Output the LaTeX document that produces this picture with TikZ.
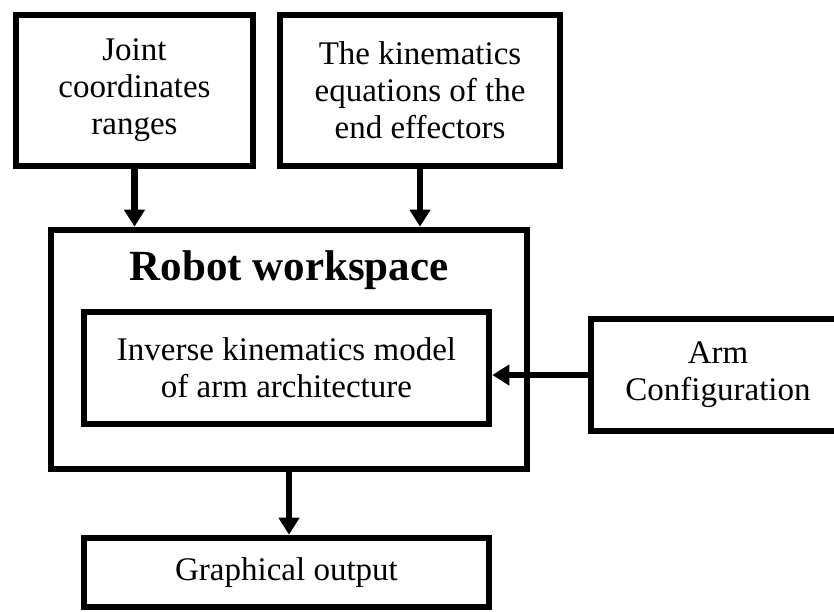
\documentclass[tikz,border=0pt]{standalone}
\usepackage{fontspec}
\setmainfont{Liberation Serif}
\usetikzlibrary{arrows.meta}

\begin{document}
\begin{tikzpicture}[x=0.5pt, y=-0.5pt,
  blockbox/.style={draw, line width=3.3pt, rectangle, align=center, inner sep=0pt,
    font=\fontsize{16.5}{18.5}\selectfont},
  flowarrow/.style={line width=3.3pt, -{Triangle[length=8.5pt,width=10pt]}}]
  \useasboundingbox (0,0) rectangle (834,611);
  \node[blockbox, minimum width=118.5pt, minimum height=75.5pt] (joint) at (134.5,90.5) {Joint\\coordinates\\ranges};
  \node[blockbox, minimum width=140pt, minimum height=75.5pt] (kin) at (420,90.5) {The kinematics\\equations of the\\end effectors};
  \node[blockbox, minimum width=238pt, minimum height=119.5pt] (robot) at (289,349.5) {};
  \node[font=\fontsize{21.5}{24}\selectfont\bfseries] (title) at (289,270) {Robot workspace};
  \node[blockbox, minimum width=202.5pt, minimum height=56pt] (inv) at (286.5,368) {Inverse kinematics model\\of arm architecture};
  \node[blockbox, minimum width=127pt, minimum height=56pt] (arm) at (718,375) {Arm\\Configuration};
  \node[blockbox, minimum width=202.5pt, minimum height=34.5pt] (graph) at (286.5,572.5) {Graphical output};
  \draw[flowarrow] (joint.south) -- (joint.south |- robot.north);
  \draw[flowarrow] (kin.south) -- (kin.south |- robot.north);
  \draw[flowarrow] (arm.west) -- (arm.west -| inv.east);
  \draw[flowarrow] (robot.south) -- (robot.south |- graph.north);
\end{tikzpicture}
\end{document}
